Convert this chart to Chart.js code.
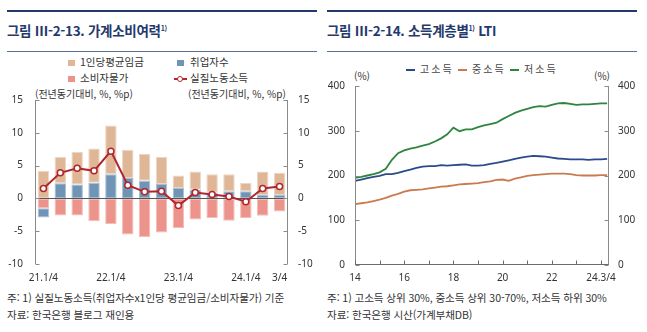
<!DOCTYPE html>
<html lang="ko"><head><meta charset="utf-8">
<script src="https://cdn.jsdelivr.net/npm/chart.js@4.4.1/dist/chart.umd.min.js"></script>
<style>
html,body{margin:0;padding:0;background:#fff}
body{width:647px;height:332px;position:relative;overflow:hidden;font-family:"Noto Sans CJK KR","Noto Sans",sans-serif;color:#333}
.a{position:absolute;white-space:nowrap;line-height:1}
.r1{position:absolute;height:2px;background:#24396b;width:310px;top:10px}
.r2{position:absolute;height:1px;background:#5b6d9b;width:310px;top:51px}
.t{font-size:13.5px;font-weight:700;color:#24396b;top:24px;letter-spacing:-0.3px}
.t sup{font-size:7px;position:relative;top:-5px;vertical-align:baseline}
.lg{font-size:10.5px;color:#333}
.sw{position:absolute;width:7px;height:6px}
.u{font-size:10px;color:#333}
.n{font-size:10.6px;color:#333;letter-spacing:-0.1px}
.rl{font-size:10px;color:#444;letter-spacing:2px}
.dash{position:absolute;height:2px;width:9px}
canvas{position:absolute}
</style></head><body>

<!-- left panel text -->
<div class="r1" style="left:7px"></div>
<div class="a t" style="left:7px">그림 Ⅲ-2-13. 가계소비여력<sup>1)</sup></div>
<div class="r2" style="left:7px"></div>

<div class="sw" style="left:68px;top:60px;background:#DFB797"></div>
<div class="a lg" style="left:80px;top:57px">1인당평균임금</div>
<div class="sw" style="left:177px;top:60px;background:#6F94B6"></div>
<div class="a lg" style="left:190px;top:57px">취업자수</div>
<div class="sw" style="left:68px;top:76px;background:#EC948C"></div>
<div class="a lg" style="left:80px;top:73px">소비자물가</div>
<div class="a" style="left:174px;top:78px;width:13px;height:2px;background:#B0262E"></div>
<div class="a" style="left:177px;top:76px;width:4px;height:4px;border:1.5px solid #B0262E;border-radius:50%;background:#fff"></div>
<div class="a lg" style="left:190px;top:73px">실질노동소득</div>

<div class="a u" style="left:35px;top:89px">(전년동기대비, %, %p)</div>
<div class="a u" style="left:188px;top:89px">(전년동기대비, %, %p)</div>

<div class="a n" style="left:7px;top:293px">주: 1) 실질노동소득(취업자수x1인당 평균임금/소비자물가) 기준</div>
<div class="a n" style="left:7px;top:310px">자료: 한국은행 블로그 재인용</div>

<!-- right panel text -->
<div class="r1" style="left:327px"></div>
<div class="a t" style="left:327px">그림 Ⅲ-2-14. 소득계층별<sup>1)</sup> LTI</div>
<div class="r2" style="left:327px"></div>

<div class="dash" style="left:406px;top:69px;background:#2B4A8B"></div>
<div class="a rl" style="left:420px;top:64px">고소득</div>
<div class="dash" style="left:458px;top:69px;background:#C97B4F"></div>
<div class="a rl" style="left:472px;top:64px">중소득</div>
<div class="dash" style="left:510px;top:69px;background:#2F8440"></div>
<div class="a rl" style="left:524px;top:64px">저소득</div>

<div class="a u" style="left:354px;top:71px">(%)</div>
<div class="a u" style="left:594px;top:71px">(%)</div>

<div class="a n" style="left:327px;top:293px">주: 1) 고소득 상위 30%, 중소득 상위 30-70%, 저소득 하위 30%</div>
<div class="a n" style="left:327px;top:310px">자료: 한국은행 시산(가계부채DB)</div>

<canvas id="c1" width="320" height="210" style="left:0;top:80px"></canvas>
<canvas id="c2" width="327" height="220" style="left:320px;top:70px"></canvas>

<script>
// ---------- Left chart data (전년동기대비, %, %p) ----------
const quarters1 = ['21.1/4','21.2/4','21.3/4','21.4/4','22.1/4','22.2/4','22.3/4','22.4/4',
                   '23.1/4','23.2/4','23.3/4','23.4/4','24.1/4','24.2/4','24.3/4'];
const leftTickLabels = ['21.1/4','','','','22.1/4','','','','23.1/4','','','','24.1/4','','3/4'];
const wage       = [4.2, 4.0, 5.0, 5.2, 7.4, 4.3, 4.1, 4.1, 1.9, 2.8, 2.8, 2.6, 1.3, 3.6, 3.4];
const employment = [-1.4, 2.3, 2.1, 2.4, 3.7, 3.1, 2.7, 2.2, 1.6, 1.3, 0.9, 1.1, 1.1, 0.5, 0.5];
const cpi        = [-1.5, -2.6, -2.6, -3.5, -3.9, -5.5, -5.9, -5.2, -4.5, -3.2, -3.0, -3.4, -3.0, -2.65, -2.0];
const realLabor  = [1.5, 3.9, 4.6, 4.2, 7.2, 2.0, 1.0, 1.1, -1.1, 0.9, 0.6, 0.3, -0.5, 1.5, 1.8];

// ---------- Right chart data (LTI, %) ----------
const quarters2 = ['14.2/4','14.3/4','14.4/4','15.1/4','15.2/4','15.3/4','15.4/4','16.1/4','16.2/4','16.3/4',
                   '16.4/4','17.1/4','17.2/4','17.3/4','17.4/4','18.1/4','18.2/4','18.3/4','18.4/4','19.1/4',
                   '19.2/4','19.3/4','19.4/4','20.1/4','20.2/4','20.3/4','20.4/4','21.1/4','21.2/4','21.3/4',
                   '21.4/4','22.1/4','22.2/4','22.3/4','22.4/4','23.1/4','23.2/4','23.3/4','23.4/4','24.1/4',
                   '24.2/4','24.3/4'];
const rightTickIdx  = [0, 8, 16, 24, 32, 40];
const rightTickText = ['14', '16', '18', '20', '22', '24.3/4'];
const highIncome = [188,191,194,197,199,203,203,206,210,213,217,220,221,221,223,222,223,224,225,222,
                    222,223,226,228,231,234,237,240,242,244,243,242,240,238,237,236,236,236,235,236,236,237];
const midIncome  = [136,138,140,143,146,150,155,159,164,167,168,169,171,173,175,176,178,180,181,182,
                    183,185,187,190,191,188,193,196,199,201,202,203,204,204,204,203,201,200,200,200,201,201];
const lowIncome  = [195,197,200,203,207,215,235,250,256,260,263,267,270,276,283,292,307,299,303,303,
                    308,312,315,318,326,333,340,345,349,353,355,354,358,361,362,360,358,359,359,360,361,361];

const tickFont = {family:'"Noto Sans","DejaVu Sans",sans-serif', size:10};
const tickColor = '#333';

const axisDeco = {
  id:'axisDeco',
  afterDatasetDraw(chart, args, o){
    if (o.zeroLine && args.index === 0) {
      const ctx = chart.ctx, a = chart.chartArea, s = chart.scales.y;
      const py = Math.round(s.getPixelForValue(0)) + 0.5;
      ctx.save(); ctx.strokeStyle = o.zeroColor; ctx.lineWidth = 1;
      ctx.beginPath(); ctx.moveTo(a.left, py); ctx.lineTo(a.right, py); ctx.stroke(); ctx.restore();
    }
  },
  afterDraw(chart, args, o){
    const ctx = chart.ctx, a = chart.chartArea;
    ctx.save(); ctx.lineWidth = 1; ctx.strokeStyle = o.axisColor;
    const L = Math.round(a.left) + 0.5, R = Math.round(a.right) - 0.5;
    ctx.beginPath();
    ctx.moveTo(L, a.top); ctx.lineTo(L, a.bottom);
    ctx.moveTo(R, a.top); ctx.lineTo(R, a.bottom);
    ctx.stroke();
    const ys = chart.scales.y;
    ys.ticks.forEach(t => {
      const py = Math.round(ys.getPixelForValue(t.value)) + 0.5;
      ctx.beginPath();
      ctx.moveTo(L, py); ctx.lineTo(L + o.len, py);
      ctx.moveTo(R, py); ctx.lineTo(R - o.len, py);
      ctx.stroke();
    });
    if (o.bottomAxis) {
      const xs = chart.scales.x, by = Math.round(a.bottom) - 0.5;
      ctx.strokeStyle = o.bottomColor;
      ctx.beginPath(); ctx.moveTo(L, by); ctx.lineTo(R, by); ctx.stroke();
      xs.ticks.forEach(t => {
        const px = Math.round(xs.getPixelForValue(t.value)) + 0.5;
        ctx.beginPath(); ctx.moveTo(px, by); ctx.lineTo(px, by - o.len); ctx.stroke();
      });
    }
    ctx.restore();
  }
};

new Chart(document.getElementById('c1'), {
  type:'bar',
  data:{
    labels: quarters1,
    datasets:[
      {label:'소비자물가', data:cpi, backgroundColor:'#EC948C', borderColor:'#F4BDB6', borderWidth:1, stack:'s', order:1},
      {label:'취업자수', data:employment, backgroundColor:'#6F94B6', borderColor:'#A9C0D4', borderWidth:1, stack:'s', order:1},
      {label:'1인당평균임금', data:wage, backgroundColor:'#DFB797', borderColor:'#EED6C3', borderWidth:1, stack:'s', order:1},
      {type:'line', label:'실질노동소득', data:realLabor, borderColor:'#B0262E', borderWidth:2,
       pointRadius:3, pointBackgroundColor:'#fff', pointBorderColor:'#B0262E', pointBorderWidth:1.5,
       tension:0, stack:'line', order:0}
    ]
  },
  options:{
    responsive:false, animation:false,
    layout:{padding:{top:20, left:0, right:0, bottom:0}},
    datasets:{bar:{categoryPercentage:1, barPercentage:0.68, borderSkipped:false}},
    plugins:{legend:{display:false}, tooltip:{enabled:false},
      axisDeco:{axisColor:'#8a8a8a', len:4, zeroLine:true, zeroColor:'#555'}},
    scales:{
      x:{stacked:true, grid:{display:false, drawTicks:false}, border:{display:false},
         ticks:{autoSkip:false, maxRotation:0, minRotation:0, padding:8, font:tickFont, color:tickColor,
                callback:(v,i)=>leftTickLabels[i]},
         afterFit(s){ s.height = 26; }},
      y:{stacked:true, position:'left', min:-10, max:15,
         ticks:{stepSize:5, padding:12, font:tickFont, color:tickColor},
         grid:{display:false, drawTicks:false}, border:{display:false},
         afterFit(s){ s.width = 35; }},
      y2:{position:'right', min:-10, max:15,
         ticks:{stepSize:5, padding:10, font:tickFont, color:tickColor},
         grid:{display:false, drawTicks:false}, border:{display:false},
         afterFit(s){ s.width = 32; }}
    }
  },
  plugins:[axisDeco]
});

const mk = (arr) => arr.map((v,i)=>({x:i, y:v}));
new Chart(document.getElementById('c2'), {
  type:'line',
  data:{
    labels: quarters2,
    datasets:[
      {label:'고소득', data:mk(highIncome), borderColor:'#2B4A8B', borderWidth:1.8, pointRadius:0, tension:0},
      {label:'중소득', data:mk(midIncome), borderColor:'#C97B4F', borderWidth:1.8, pointRadius:0, tension:0},
      {label:'저소득', data:mk(lowIncome), borderColor:'#2F8440', borderWidth:1.8, pointRadius:0, tension:0}
    ]
  },
  options:{
    responsive:false, animation:false, parsing:true,
    layout:{padding:{top:13, left:0, right:0, bottom:0}},
    plugins:{legend:{display:false}, tooltip:{enabled:false},
      axisDeco:{axisColor:'#8a8a8a', len:4, bottomAxis:true, bottomColor:'#6a6a6a'}},
    scales:{
      x:{type:'linear', min:0, max:41.3,
         afterBuildTicks(s){ s.ticks = [0,4,8,12,16,20,24,28,32,36,40].map(v=>({value:v})); },
         grid:{display:false, drawTicks:false}, border:{display:false},
         ticks:{autoSkip:false, maxRotation:0, minRotation:0, padding:7, font:tickFont, color:tickColor,
                callback:(v)=>{ const k = rightTickIdx.indexOf(v); return k>=0 ? rightTickText[k] : ''; }},
         afterFit(s){ s.height = 25; }},
      y:{position:'left', min:0, max:400,
         ticks:{stepSize:100, padding:10, font:tickFont, color:tickColor},
         grid:{display:false, drawTicks:false}, border:{display:false},
         afterFit(s){ s.width = 35; }},
      y2:{position:'right', min:0, max:400,
         ticks:{stepSize:100, padding:9, font:tickFont, color:tickColor},
         grid:{display:false, drawTicks:false}, border:{display:false},
         afterFit(s){ s.width = 38; }}
    }
  },
  plugins:[axisDeco]
});
</script>
</body></html>
